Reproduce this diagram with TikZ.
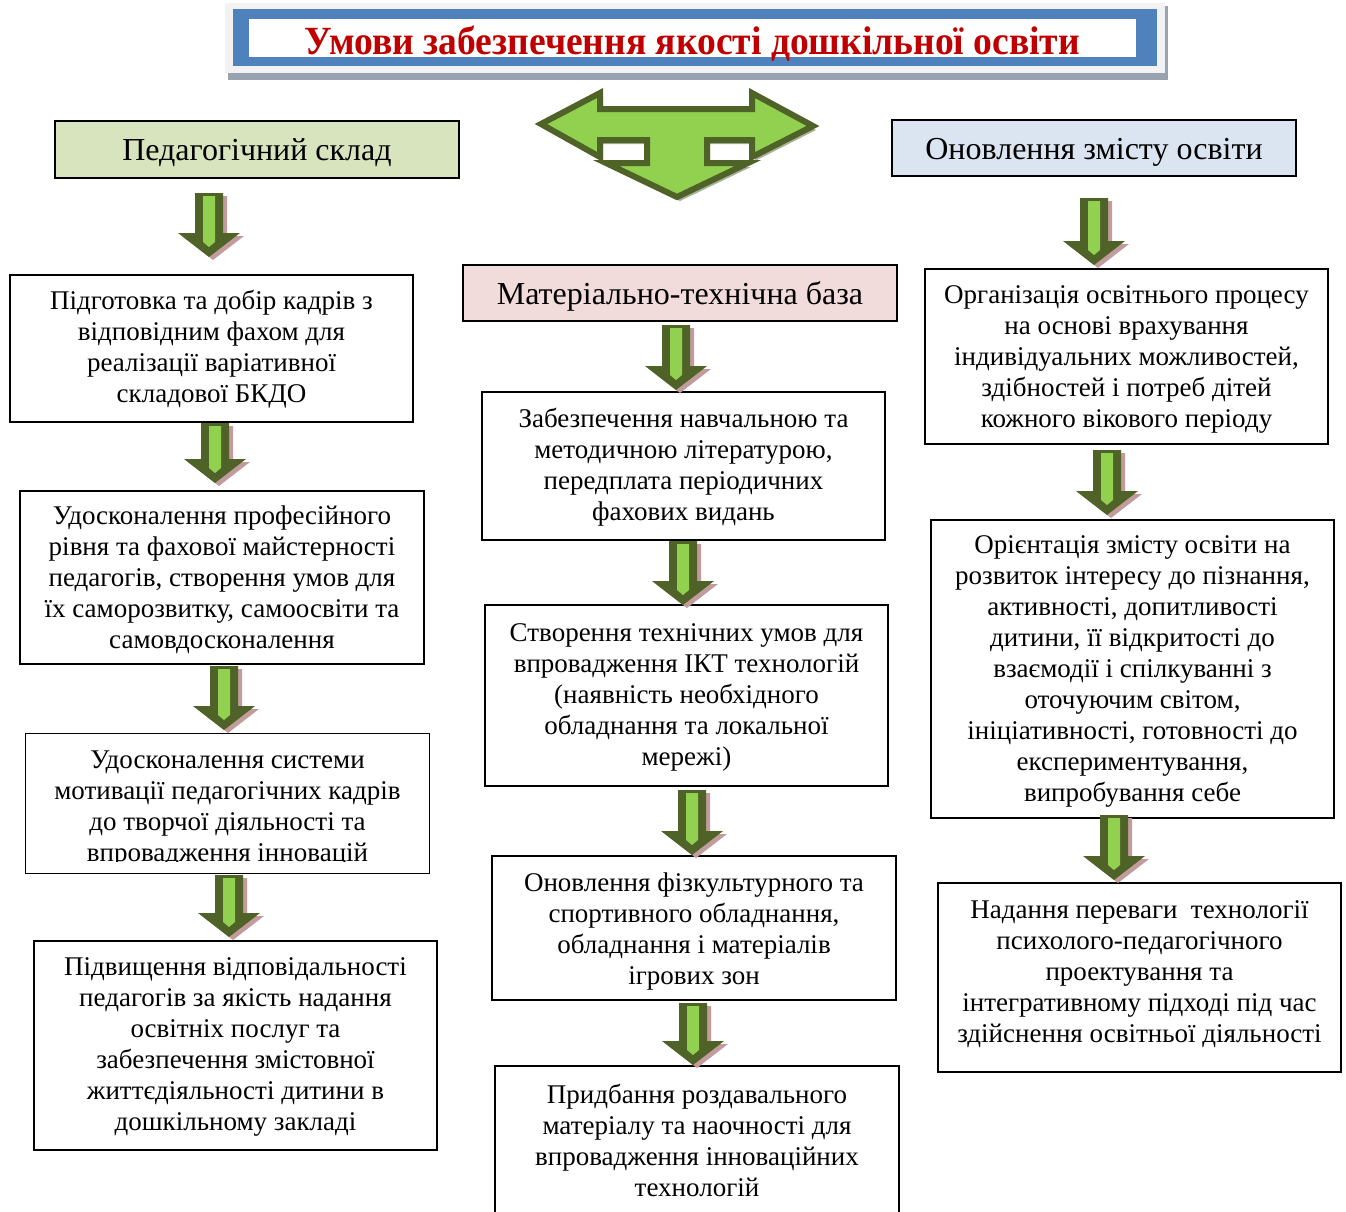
\documentclass[tikz,border=0pt]{standalone}
\usepackage{fontspec}
\setmainfont{Liberation Serif}
\usetikzlibrary{calc}
\definecolor{arrdark}{HTML}{4F6228}
\definecolor{arrlight}{HTML}{92D050}
\definecolor{arrshadow}{HTML}{C29C9C}
\definecolor{bigshadow}{HTML}{A9B196}
\definecolor{titleblue}{HTML}{4F81BD}
\definecolor{framegray}{HTML}{F2F2F2}
\definecolor{titleshadow}{HTML}{98A2B0}
\definecolor{titlered}{HTML}{C00000}
\definecolor{hdrgreen}{HTML}{D7E4BD}
\definecolor{hdrpink}{HTML}{F2DCDB}
\definecolor{hdrblue}{HTML}{DBE5F1}
\tikzset{
  box/.style={draw=black,line width=1.7pt,fill=white,inner sep=0pt},
  hdr/.style={draw=black,line width=1.7pt,inner sep=0pt},
  hdrtxt/.style={anchor=base,inner sep=0pt,font=\fontsize{32}{36}\selectfont},
  txt/.style={align=center,inner sep=0pt,font=\fontsize{27}{31}\selectfont},
}
\newcommand{\dnarr}[3]{%
  \begin{scope}[shift={(#1,#2)}]
    \pgfmathsetmacro\AL{#3-#2}
    \pgfmathsetmacro\AH{\AL-24}
    \fill[arrshadow,shift={(4,3)}] (-14,0) -- (14,0) -- (14,\AH) -- (31,\AH) -- (0,\AL) -- (-31,\AH) -- (-14,\AH) -- cycle;
    \fill[arrdark] (-14,0) -- (14,0) -- (14,\AH) -- (31,\AH) -- (0,\AL) -- (-31,\AH) -- (-14,\AH) -- cycle;
    \fill[arrlight] (-6,3) -- (6,3) -- (6,\AL-15) -- (0,\AL-10) -- (-6,\AL-15) -- cycle;
  \end{scope}}
\begin{document}
\begin{tikzpicture}[x=1pt,y=-1pt]
\useasboundingbox[fill=white] (0,0) rectangle (1346,1211);

% title
\fill[titleshadow] (228,6) rectangle (1168,80);
\fill[framegray] (225,3) rectangle (1165,73);
\node[fill=titleblue,minimum width=924pt,minimum height=57pt,inner sep=0pt] (Tb) at (695,37.5) {};
\node[fill=white,minimum width=887pt,minimum height=38pt,inner sep=0pt] (Tw) at (692.5,38) {};
\node[anchor=base,text=titlered,inner sep=0pt,font=\bfseries\fontsize{40}{40}\selectfont] (T) at (692.5,54)
  {\resizebox{775pt}{\height}{Умови забезпечення якості дошкільної освіти}};

% big three-way arrow
\fill[bigshadow,shift={(3,4)}] (541,124) -- (600,93) -- (600,109) -- (752,109) -- (752,93) -- (813,126) -- (752,157) -- (752,140) -- (707,140) -- (707,163) -- (748,163) -- (677,197) -- (606,163) -- (647,163) -- (647,140) -- (600,140) -- (600,157) -- cycle;
\draw[draw=arrdark,fill=arrlight,line width=6pt,line join=miter] (541,124) -- (600,93) -- (600,109) -- (752,109) -- (752,93) -- (813,126) -- (752,157) -- (752,140) -- (707,140) -- (707,163) -- (748,163) -- (677,197) -- (606,163) -- (647,163) -- (647,140) -- (600,140) -- (600,157) -- cycle;

% left column
\node[hdr,fill=hdrgreen,minimum width=404pt,minimum height=57pt] (L0) at (257,149.5) {};
\node[hdrtxt] (L0t) at (257,160) {Педагогічний склад};
\node[box,minimum width=403pt,minimum height=147pt] (L1) at (211.5,348.5) {};
\node[txt] (L1t) at (211.5,349) {Підготовка та добір кадрів з\\відповідним фахом для\\реалізації варіативної\\складової БКДО};
\node[box,minimum width=404pt,minimum height=173pt] (L2) at (222,577.5) {};
\node[txt] (L2t) at (222,580) {Удосконалення професійного\\рівня та фахової майстерності\\педагогів, створення умов для\\їх саморозвитку, самоосвіти та\\самовдосконалення};
\node[box,minimum width=404pt,minimum height=140pt] (L3) at (227.5,803.5) {};
\begin{scope}
\clip (26,734) rectangle (429,861);
\node[txt] (L3t) at (227.5,809) {Удосконалення системи\\мотивації педагогічних кадрів\\до творчої діяльності та\\впровадження інновацій};
\end{scope}
\node[box,minimum width=403pt,minimum height=209pt] (L4) at (235.5,1045.5) {};
\node[txt] (L4t) at (235.5,1047) {Підвищення відповідальності\\педагогів за якість надання\\освітніх послуг та\\забезпечення змістовної\\життєдіяльності дитини в\\дошкільному закладі};

% middle column
\node[hdr,fill=hdrpink,minimum width=434pt,minimum height=56pt] (M0) at (680,293) {};
\node[hdrtxt] (M0t) at (680,304) {Матеріально-технічна база};
\node[box,minimum width=403pt,minimum height=148pt] (M1) at (683.5,466) {};
\node[txt] (M1t) at (683.5,467) {Забезпечення навчальною та\\методичною літературою,\\передплата періодичних\\фахових видань};
\node[box,minimum width=403pt,minimum height=181pt] (M2) at (686.5,695.5) {};
\node[txt] (M2t) at (686.5,697) {Створення технічних умов для\\впровадження ІКТ технологій\\(наявність необхідного\\обладнання та локальної\\мережі)};
\node[box,minimum width=404pt,minimum height=144pt] (M3) at (694,928) {};
\node[txt] (M3t) at (694,931) {Оновлення фізкультурного та\\спортивного обладнання,\\обладнання і матеріалів\\ігрових зон};
\node[box,minimum width=404pt,minimum height=170pt] (M4) at (697,1151) {};
\node[txt] (M4t) at (697,1140) {Придбання роздавального\\матеріалу та наочності для\\впровадження інноваційних\\технологій};

% right column
\node[hdr,fill=hdrblue,minimum width=404pt,minimum height=56pt] (R0) at (1094,148) {};
\node[hdrtxt] (R0t) at (1094,159) {Оновлення змісту освіти};
\node[box,minimum width=403pt,minimum height=175pt] (R1) at (1126.5,356.5) {};
\node[txt] (R1t) at (1126.5,359.5) {Організація освітнього процесу\\на основі врахування\\індивідуальних можливостей,\\здібностей і потреб дітей\\кожного вікового періоду};
\node[box,minimum width=403pt,minimum height=298pt] (R2) at (1132.5,669) {};
\node[txt] (R2t) at (1132.5,671.5) {Орієнтація змісту освіти на\\розвиток інтересу до пізнання,\\активності, допитливості\\дитини, її відкритості до\\взаємодії і спілкуванні з\\оточуючим світом,\\ініціативності, готовності до\\експериментування,\\випробування себе};
\node[box,minimum width=403pt,minimum height=189pt] (R3) at (1139.5,977.5) {};
\node[txt] (R3t) at (1139.5,974) {Надання переваги\ \ технології\\психолого-педагогічного\\проектування та\\інтегративному підході під час\\здійснення освітньої діяльності};

% block arrows
\dnarr{209}{193}{257}
\dnarr{215}{423}{483}
\dnarr{224}{666}{730}
\dnarr{229}{875}{937}
\dnarr{676}{325}{390}
\dnarr{683}{541}{605}
\dnarr{692}{790}{855}
\dnarr{693}{1003}{1065}
\dnarr{1094}{198}{265}
\dnarr{1107}{450}{515}
\dnarr{1114}{815}{880}
\end{tikzpicture}
\end{document}
